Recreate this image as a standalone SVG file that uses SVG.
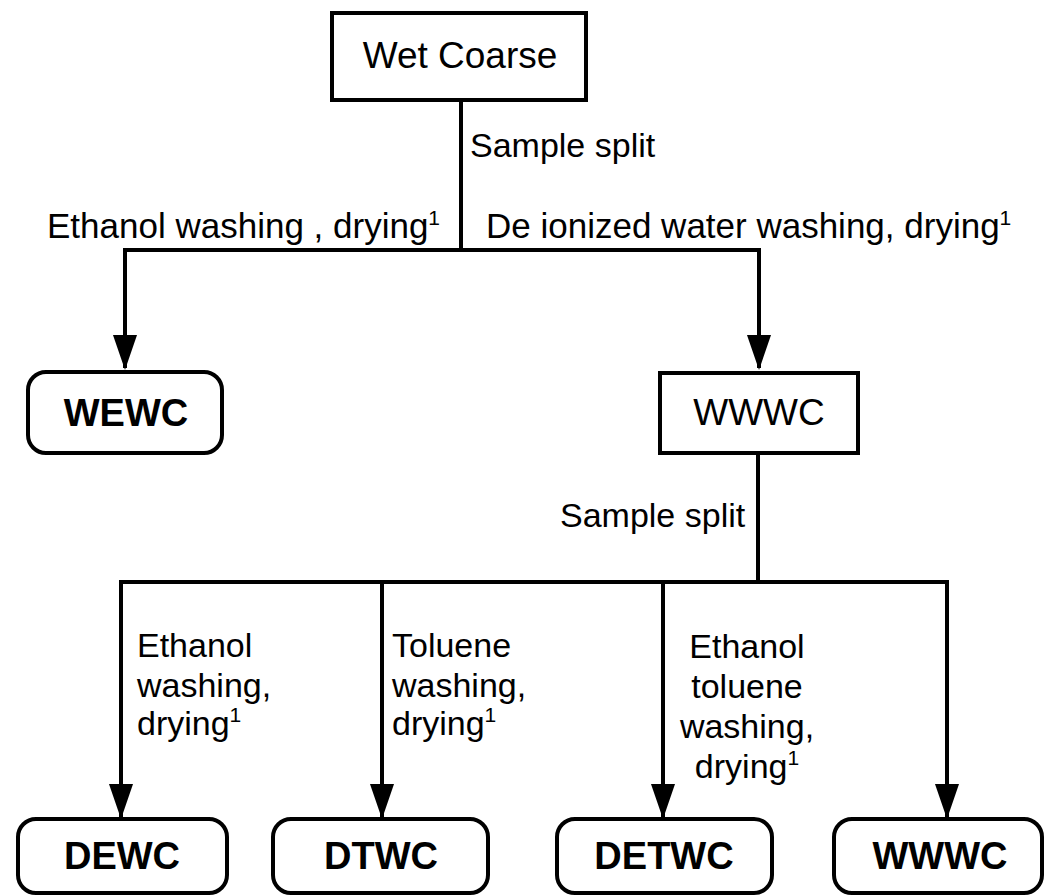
<svg xmlns="http://www.w3.org/2000/svg" width="1044" height="895" viewBox="0 0 1044 895">
<defs>
<style>
.box{fill:#fff;stroke:#000;stroke-width:4}
.ln{fill:none;stroke:#000;stroke-width:4}
.t{font-family:"Liberation Sans",Arial,sans-serif;font-size:34px;fill:#000}
.tl{font-size:35px}
.tb{font-family:"Liberation Sans",Arial,sans-serif;font-size:38px;font-weight:bold;fill:#000;text-anchor:middle}
.tn{font-family:"Liberation Sans",Arial,sans-serif;font-size:37px;fill:#000;text-anchor:middle}
.sup{font-size:21px}
</style>
<marker id="ah" viewBox="0 0 35 24" refX="33" refY="12" markerWidth="35" markerHeight="24" markerUnits="userSpaceOnUse" orient="auto">
<path d="M0,0 L35,12 L0,24 Z" fill="#000"/>
</marker>
</defs>
<rect width="1044" height="895" fill="#fff"/>
<g id="connectors">
<path class="ln" d="M461,100 V250"/>
<path class="ln" d="M123,250 H761"/>
<path class="ln" d="M125,250 V368" marker-end="url(#ah)"/>
<path class="ln" d="M759,250 V368" marker-end="url(#ah)"/>
<path class="ln" d="M758,453 V582"/>
<path class="ln" d="M119,582 H949"/>
<path class="ln" d="M121,582 V817" marker-end="url(#ah)"/>
<path class="ln" d="M382,582 V817" marker-end="url(#ah)"/>
<path class="ln" d="M663,582 V817" marker-end="url(#ah)"/>
<path class="ln" d="M947,582 V817" marker-end="url(#ah)"/>
<text class="t" x="470" y="157">Sample split</text>
<text class="t tl" x="47" y="238">Ethanol washing , drying<tspan class="sup" dy="-13">1</tspan></text>
<text class="t tl" x="486" y="238">De ionized water washing, drying<tspan class="sup" dy="-13">1</tspan></text>
<text class="t" x="560" y="527">Sample split</text>
<text class="t" x="137" y="657">Ethanol</text>
<text class="t" x="137" y="697">washing,</text>
<text class="t" x="137" y="735">drying<tspan class="sup" dy="-13">1</tspan></text>
<text class="t" x="392" y="657">Toluene</text>
<text class="t" x="392" y="697">washing,</text>
<text class="t" x="392" y="735">drying<tspan class="sup" dy="-13">1</tspan></text>
<text class="t" x="747" y="658" text-anchor="middle">Ethanol</text>
<text class="t" x="747" y="698" text-anchor="middle">toluene</text>
<text class="t" x="747" y="738" text-anchor="middle">washing,</text>
<text class="t" x="747" y="778" text-anchor="middle">drying<tspan class="sup" dy="-13">1</tspan></text>
</g>
<g id="wet-coarse">
<rect class="box" x="332" y="13" width="254" height="87"/>
<text class="tn" x="460" y="68">Wet Coarse</text>
</g>
<g id="wewc">
<rect class="box" x="28" y="372" width="194" height="81" rx="18"/>
<text class="tb" x="126" y="426">WEWC</text>
</g>
<g id="wwwc-mid">
<rect class="box" x="660" y="373" width="198" height="80"/>
<text class="tn" x="759" y="425">WWWC</text>
</g>
<g id="dewc">
<rect class="box" x="18" y="819" width="209" height="74" rx="18"/>
<text class="tb" x="122" y="869">DEWC</text>
</g>
<g id="dtwc">
<rect class="box" x="273" y="819" width="215" height="74" rx="18"/>
<text class="tb" x="381" y="869">DTWC</text>
</g>
<g id="detwc">
<rect class="box" x="557" y="819" width="215" height="74" rx="18"/>
<text class="tb" x="664" y="869">DETWC</text>
</g>
<g id="wwwc-bottom">
<rect class="box" x="834" y="819" width="208" height="74" rx="18"/>
<text class="tb" x="940" y="869">WWWC</text>
</g>
</svg>
